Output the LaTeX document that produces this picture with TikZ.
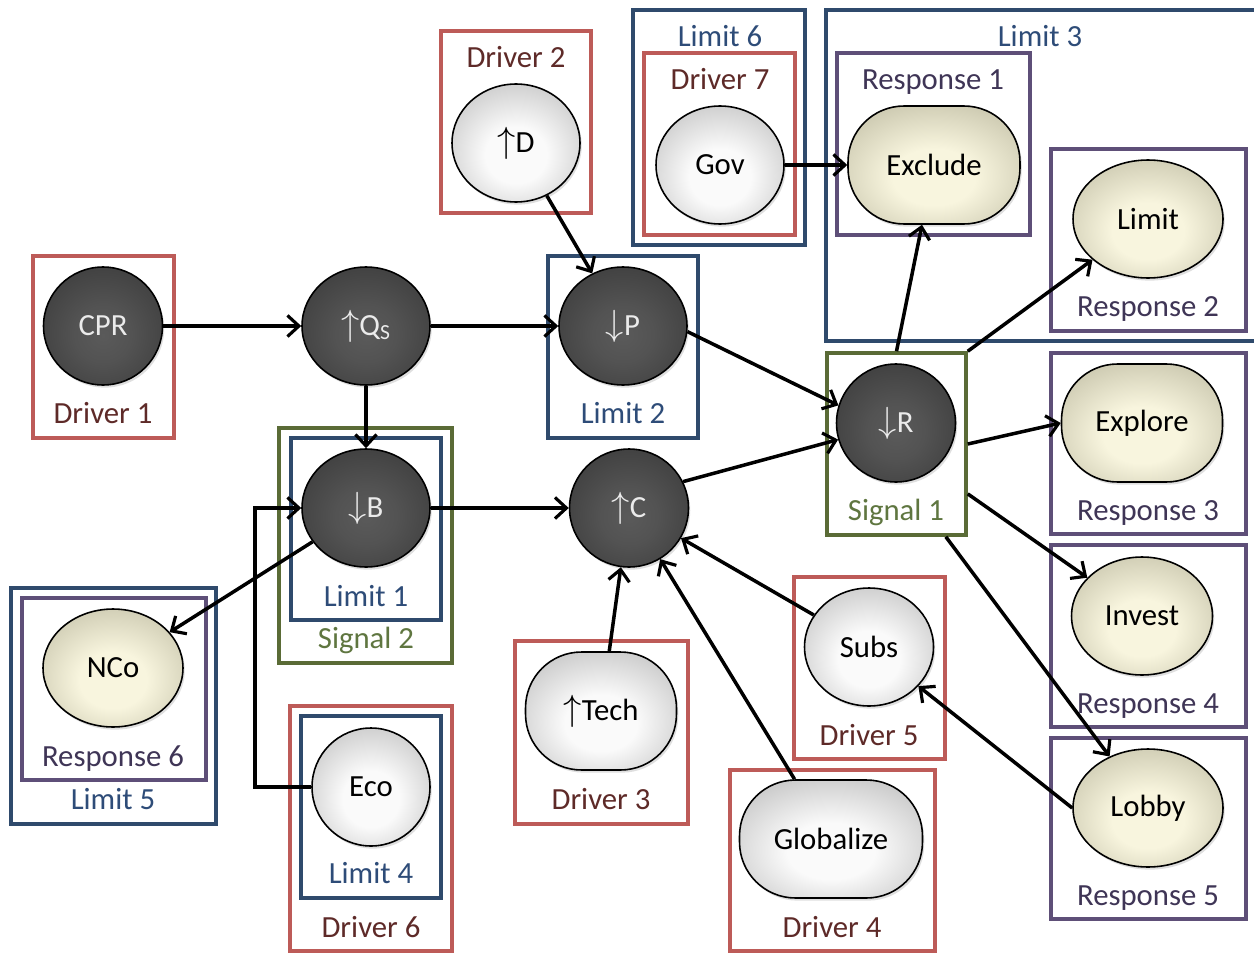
\documentclass[tikz,border=0pt]{standalone}
\usepackage{fontspec}
\setmainfont{Carlito}
\usetikzlibrary{shapes.geometric,arrows.meta,fit,calc,shadows}
\definecolor{rboxc}{HTML}{BD5B58}
\definecolor{rtxt}{HTML}{5E2A28}
\definecolor{bboxc}{HTML}{2F4A6C}
\definecolor{btxt}{HTML}{2E4C78}
\definecolor{pboxc}{HTML}{5E4F78}
\definecolor{ptxt}{HTML}{3F3556}
\definecolor{gboxc}{HTML}{5A6B36}
\definecolor{gtxt}{HTML}{5F7640}
\definecolor{dkin}{HTML}{5A5A5A}
\definecolor{dkout}{HTML}{2A2A2A}
\definecolor{ltin}{HTML}{FAFAFA}
\definecolor{ltout}{HTML}{9C9C9C}
\definecolor{tnin}{HTML}{F8F5DE}
\definecolor{tnout}{HTML}{A3A086}
\pgfdeclareradialshading{darkball}{\pgfpoint{0bp}{-4bp}}{color(0bp)=(dkin); color(12bp)=(dkin!85!dkout); color(50bp)=(dkout); color(80bp)=(dkout)}
\pgfdeclareradialshading{lightball}{\pgfpoint{0bp}{-6bp}}{color(0bp)=(ltin); color(12bp)=(ltin); color(50bp)=(ltout); color(80bp)=(ltout)}
\pgfdeclareradialshading{tanball}{\pgfpoint{0bp}{-6bp}}{color(0bp)=(tnin); color(12bp)=(tnin); color(50bp)=(tnout); color(80bp)=(tnout)}
\newcommand{\upa}{\scalebox{1.2}{$\uparrow$}}
\newcommand{\dna}{\scalebox{1.2}{$\downarrow$}}
\tikzset{
  txt/.style={font=\fontsize{17.5}{20}\selectfont},
  ball/.style={txt, ellipse, draw=black, line width=0.9pt, inner sep=0pt,
    minimum width=2.56cm, minimum height=2.36cm,
    drop shadow={opacity=0.25, shadow xshift=1pt, shadow yshift=-1.5pt}},
  pill/.style={txt, rectangle, rounded corners=1.12cm, draw=black, line width=0.9pt, inner sep=0pt,
    minimum height=2.36cm,
    drop shadow={opacity=0.25, shadow xshift=1pt, shadow yshift=-1.5pt}},
  dark/.style={shading=darkball, text=white!92!black},
  light/.style={shading=lightball, text=black},
  tan/.style={shading=tanball, text=black},
  abox/.style={rectangle, inner sep=0pt, line width=2pt},
  redbox/.style={abox, draw=rboxc},
  bluebox/.style={abox, draw=bboxc},
  purbox/.style={abox, draw=pboxc},
  grnbox/.style={abox, draw=gboxc},
  lab/.style={txt, anchor=base, inner sep=0pt},
  rlab/.style={lab, text=rtxt},
  blab/.style={lab, text=btxt},
  plab/.style={lab, text=ptxt},
  glab/.style={lab, text=gtxt},
  arr/.style={line width=2pt, -{Straight Barb[length=6.5pt,width=12pt,line width=1.8pt]}},
}
\begin{document}
\begin{tikzpicture}[x=0.02cm, y=-0.02cm]
\useasboundingbox (0,0) rectangle (1254,953);
\fill[white] (0,0) rectangle (1254,953);

% ---------- boxes ----------
\node[redbox, fit={(33,256) (174,438)}] (bd1) {};
\node[redbox, fit={(441,31) (591,213)}] (bd2) {};
\node[bluebox, fit={(633,10) (805,245)}] (bl6) {};
\node[redbox, fit={(644,53) (795,235)}] (bd7) {};
\node[bluebox, fit={(826,10) (1264,341)}] (bl3) {};
\node[purbox, fit={(837,53) (1030,235)}] (br1) {};
\node[purbox, fit={(1051,149) (1246,331)}] (br2) {};
\node[bluebox, fit={(548,256) (698,438)}] (bl2) {};
\node[grnbox, fit={(827,353) (966,535)}] (s1) {};
\node[purbox, fit={(1051,353) (1246,534)}] (br3) {};
\node[purbox, fit={(1051,545) (1246,727)}] (br4) {};
\node[purbox, fit={(1051,738) (1246,919)}] (br5) {};
\node[grnbox, fit={(279,428) (452,663)}] (s2) {};
\node[bluebox, fit={(291,438) (441,620)}] (bl1) {};
\node[bluebox, fit={(11,588) (216,824)}] (bl5) {};
\node[purbox, fit={(22,598) (206,780)}] (br6) {};
\node[redbox, fit={(290,706) (452,951)}] (bd6) {};
\node[bluebox, fit={(301,716) (441,898)}] (bl4) {};
\node[redbox, fit={(515,641) (688,824)}] (bd3) {};
\node[redbox, fit={(794,577) (945,759)}] (bd5) {};
\node[redbox, fit={(730,770) (935,951)}] (bd4) {};

% ---------- box labels ----------
\node[rlab] (td1) at (103,423) {Driver 1};
\node[rlab] (td2) at (516,68) {Driver 2};
\node[blab] (tl6) at (720,47) {Limit 6};
\node[rlab] (td7) at (720,90) {Driver 7};
\node[blab] (tl3) at (1040,47) {Limit 3};
\node[plab] (tr1) at (933,90) {Response 1};
\node[plab] (tr2) at (1148,316) {Response 2};
\node[blab] (tl2) at (623,423) {Limit 2};
\node[glab] (ts1) at (896,520) {Signal 1};
\node[plab] (tr3) at (1148,520) {Response 3};
\node[plab] (tr4) at (1148,713) {Response 4};
\node[plab] (tr5) at (1148,905) {Response 5};
\node[glab] (ts2) at (366,648) {Signal 2};
\node[blab] (tl1) at (366,606) {Limit 1};
\node[blab] (tl5) at (113,809) {Limit 5};
\node[plab] (tr6) at (113,766) {Response 6};
\node[rlab] (td6) at (371,937) {Driver 6};
\node[blab] (tl4) at (371,883) {Limit 4};
\node[rlab] (td3) at (601,809) {Driver 3};
\node[rlab] (td5) at (869,745) {Driver 5};
\node[rlab] (td4) at (832,937) {Driver 4};

% ---------- nodes ----------
\node[ball, dark, minimum width=2.38cm] (cpr) at (103,326) {CPR};
\node[ball, dark] (qs) at (366,326) {\upa Q\textsubscript{S}};
\node[ball, dark] (p) at (623,326) {\dna P};
\node[ball, dark] (b) at (366,508) {\dna B};
\node[ball, dark, minimum width=2.38cm] (c) at (629,508) {\upa C};
\node[ball, dark, minimum width=2.38cm] (r) at (896,423) {\dna R};
\node[ball, light] (d) at (516,143) {\upa D};
\node[ball, light] (gov) at (720,165) {Gov};
\node[pill, tan, minimum width=3.44cm] (excl) at (934,165) {Exclude};
\node[ball, tan, minimum width=3.0cm] (lim) at (1148,219) {Limit};
\node[pill, tan, minimum width=3.22cm] (expl) at (1142,423) {Explore};
\node[ball, tan, minimum width=2.82cm] (inv) at (1142,616) {Invest};
\node[ball, tan, minimum width=3.0cm] (lob) at (1148,808) {Lobby};
\node[ball, tan, minimum width=2.8cm] (nco) at (113,668) {NCo};
\node[ball, light, minimum width=2.36cm] (eco) at (371,787) {Eco};
\node[pill, light, minimum width=3.02cm] (tech) at (601,711) {\upa Tech};
\node[ball, light, minimum width=2.58cm] (subs) at (869,647) {Subs};
\node[pill, light, minimum width=3.66cm] (glob) at (831,839) {Globalize};

% ---------- connectors ----------
\draw[arr] (cpr) -- (qs);
\draw[arr] (qs) -- (p);
\draw[arr] (qs) -- (b);
\draw[arr] (d) -- (p);
\draw[arr] (p.-5) -- (r.163);
\draw[arr] (b) -- (c);
\draw[arr] (c.26) -- (r.196);
\draw[arr] (gov) -- (excl);
\draw[arr] (s1.north) -- (excl);
\draw[arr] (s1.north east) -- (lim);
\draw[arr] (s1.east) -- (expl.west);
\draw[arr] (s1.-35) -- (inv);
\draw[arr] (s1.-62) -- (lob);
\draw[arr] (b) -- (nco);
\draw[arr] (eco.west) -| ($(b.west)+(-46,0)$) -- (b.west);
\draw[arr] (tech) -- (c);
\draw[arr] (glob) -- (c);
\draw[arr] (subs) -- (c);
\draw[arr] (lob.west) -- (subs);
\end{tikzpicture}
\end{document}
